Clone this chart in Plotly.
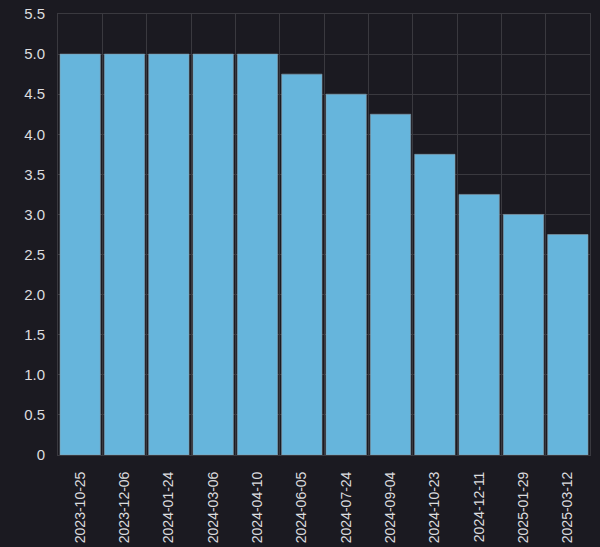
import plotly.graph_objects as go

dates = ["2023-10-25", "2023-12-06", "2024-01-24", "2024-03-06", "2024-04-10", "2024-06-05",
         "2024-07-24", "2024-09-04", "2024-10-23", "2024-12-11", "2025-01-29", "2025-03-12"]
rates = [5.0, 5.0, 5.0, 5.0, 5.0, 4.75, 4.5, 4.25, 3.75, 3.25, 3.0, 2.75]
y_ticks = [0, 0.5, 1.0, 1.5, 2.0, 2.5, 3.0, 3.5, 4.0, 4.5, 5.0, 5.5]
y_labels = ["0", "0.5", "1.0", "1.5", "2.0", "2.5", "3.0", "3.5", "4.0", "4.5", "5.0", "5.5"]

bg = "#1b1a21"
grid = "#3a393f"

fig = go.Figure(go.Bar(
    x=dates, y=rates,
    marker=dict(color="#66b5dc", line=dict(color="#8a9aa6", width=0.6)),
))
fig.update_layout(
    width=600, height=547,
    paper_bgcolor=bg, plot_bgcolor=bg,
    margin=dict(l=58, r=10, t=14, b=92),
    bargap=0.09,
    showlegend=False,
    font=dict(family="Liberation Sans, Arial, sans-serif", size=14, color="#dcdcdf"),
)
fig.update_xaxes(
    type="category", tickangle=-90, tickson="boundaries",
    showgrid=True, gridcolor=grid, gridwidth=1,
    showline=True, linecolor=grid, mirror=True,
    ticks="", ticklen=0, ticklabelstandoff=10, automargin=False,
)
fig.update_yaxes(
    range=[0, 5.5], tickvals=y_ticks, ticktext=y_labels,
    showgrid=True, gridcolor=grid, gridwidth=1,
    showline=True, linecolor=grid, mirror=True,
    zeroline=False, ticks="", ticklen=0, ticklabelstandoff=9, automargin=False,
    tickfont=dict(size=15),
)
fig.write_html("out.html", config={"displayModeBar": False},
               post_script="document.body.style.margin='0';document.body.style.background='#1b1a21';")
